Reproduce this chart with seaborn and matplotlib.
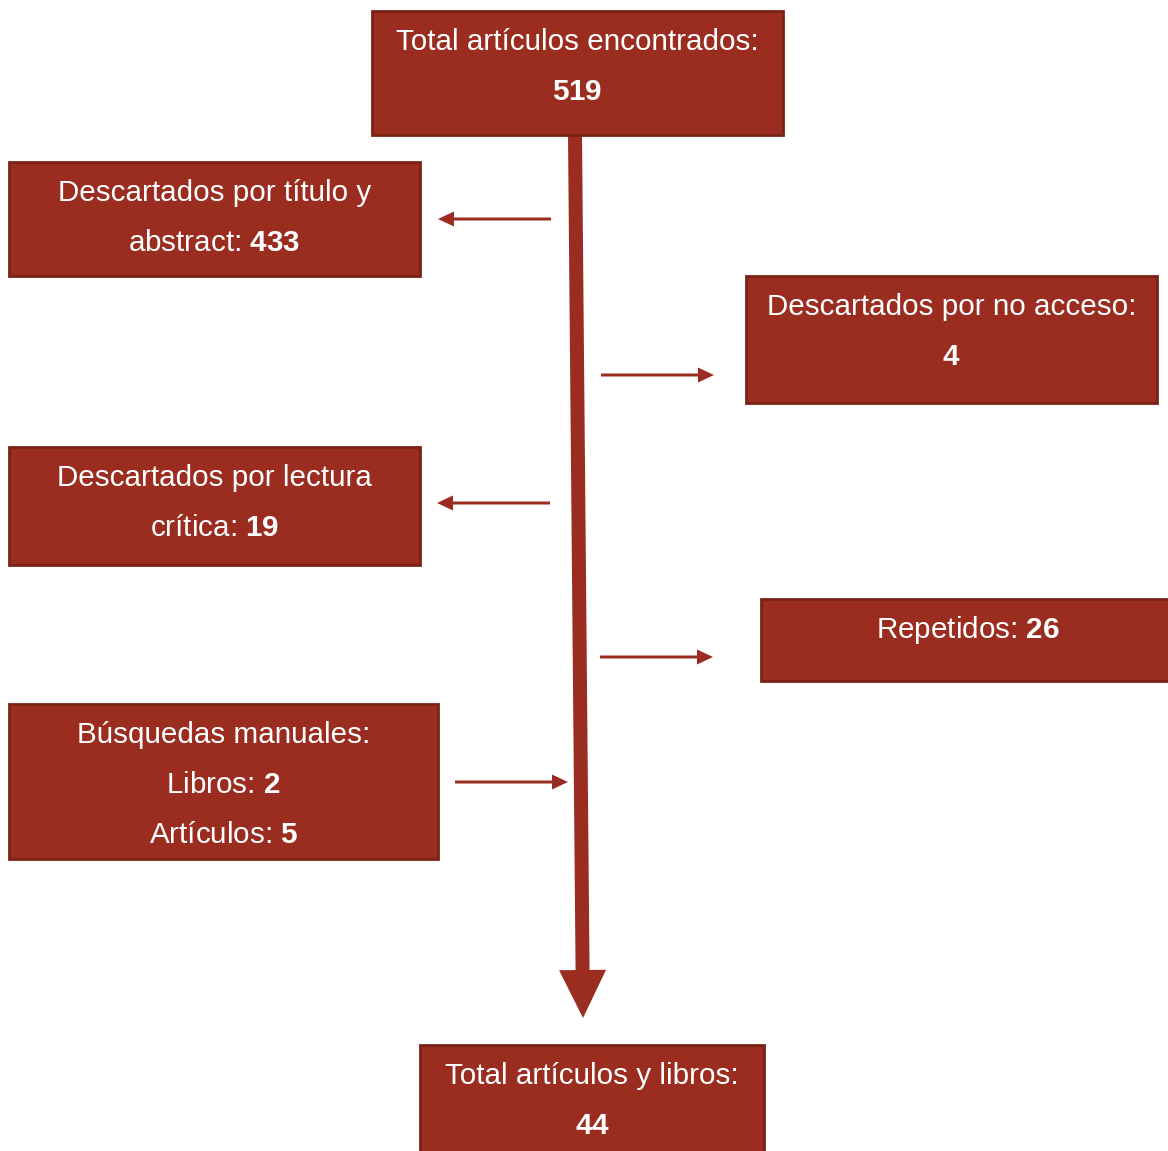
import matplotlib
matplotlib.use("Agg")
import matplotlib.pyplot as plt
import seaborn as sns
from matplotlib.patches import Rectangle, FancyArrow

# --- Flowchart content ---
box_lines = [
    ["Total artículos encontrados:", r"$\mathbf{519}$"],
    ["Descartados por título y", r"abstract: $\mathbf{433}$"],
    ["Descartados por no acceso:", r"$\mathbf{4}$"],
    ["Descartados por lectura", r"crítica: $\mathbf{19}$"],
    [r"Repetidos: $\mathbf{26}$"],
    ["Búsquedas manuales:", r"Libros: $\mathbf{2}$", r"Artículos: $\mathbf{5}$"],
    ["Total artículos y libros:", r"$\mathbf{44}$"],
]

# box layout in pixels: left, top, right, bottom
box_rects = [
    (372, 11, 783, 135),
    (9, 162, 420, 276),
    (746, 276, 1157, 403),
    (9, 447, 420, 565),
    (761, 599, 1175, 681),
    (9, 704, 438, 859),
    (420, 1045, 764, 1158),
]

# side arrows: start x, end x, y
side_arrows = [
    (551, 438, 219),
    (601, 714, 375),
    (550, 437, 503),
    (600, 713, 657),
    (455, 568, 782),
]

FILL = "#9A2C20"
EDGE = "#7A2216"

sns.set_style("white")
plt.rcParams["font.family"] = ["Liberation Sans", "DejaVu Sans"]
plt.rcParams["mathtext.fontset"] = "custom"
plt.rcParams["mathtext.rm"] = "Liberation Sans"
plt.rcParams["mathtext.bf"] = "Liberation Sans:bold"

fig = plt.figure(figsize=(11.68, 11.51), dpi=100)
ax = fig.add_axes([0, 0, 1, 1])
ax.set_xlim(0, 1168)
ax.set_ylim(1151, 0)
ax.axis("off")

# --- Boxes ---
for (l, t, r, b), lines in zip(box_rects, box_lines):
    ax.add_patch(Rectangle((l, t), r - l, b - t, facecolor=FILL,
                           edgecolor=EDGE, linewidth=2, zorder=2))
    cx = (l + r) / 2
    for i, line in enumerate(lines):
        ax.text(cx, t + 31 + 50 * i, line, color="white", fontsize=21.3,
                ha="center", va="center", zorder=3)

# --- Main arrow ---
ax.add_patch(FancyArrow(575, 135, 8, 883, width=14, head_width=47,
                        head_length=48, length_includes_head=True,
                        color=FILL, linewidth=0, zorder=1))

# --- Side arrows ---
for x0, x1, y in side_arrows:
    ax.add_patch(FancyArrow(x0, y, x1 - x0, 0, width=3, head_width=15,
                            head_length=16, length_includes_head=True,
                            color=FILL, linewidth=0, zorder=1))

fig.savefig("out.png", dpi=100)
